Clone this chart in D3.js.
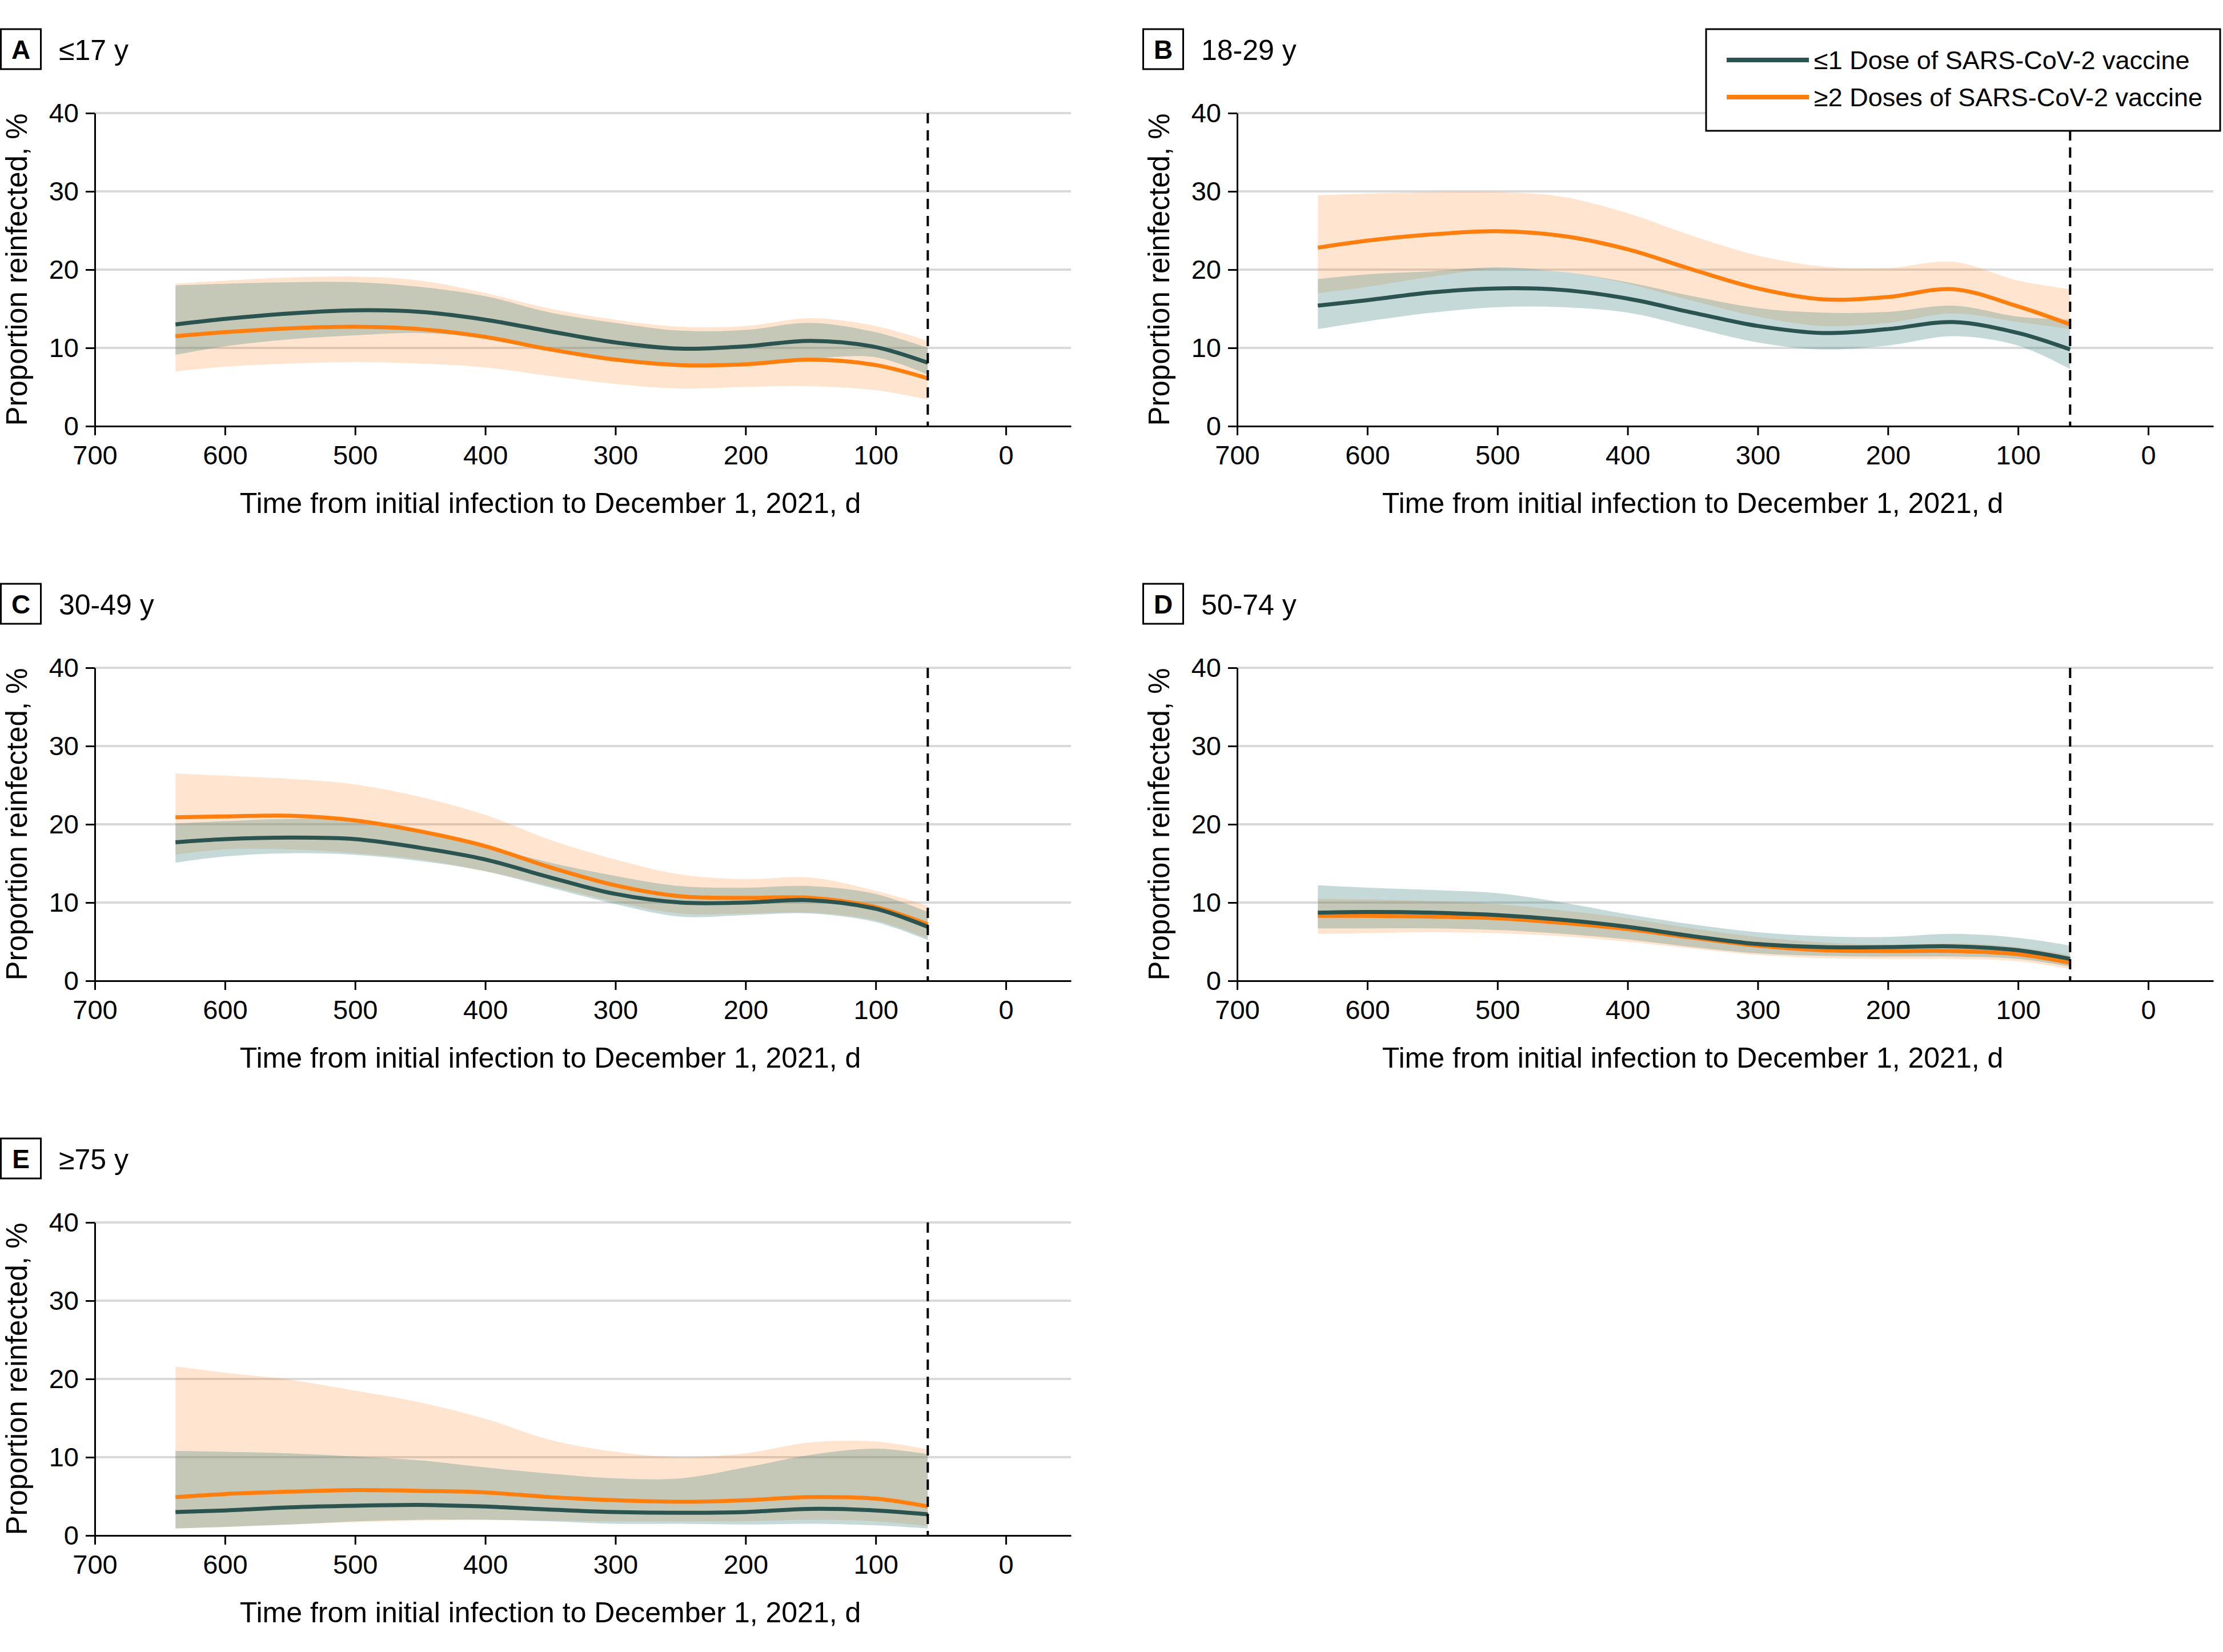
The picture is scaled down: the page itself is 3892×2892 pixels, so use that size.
<!DOCTYPE html>
<html>
<head>
<meta charset="utf-8">
<script src="https://cdn.jsdelivr.net/npm/d3@7"></script>
<style>
  html, body { margin: 0; padding: 0; background: #fff; }
  svg { display: block; font-family: "Liberation Sans", Arial, sans-serif; }
</style>
</head>
<body>
<script>
// ---------- data ----------
const days = [638, 600, 550, 500, 450, 400, 350, 300, 250, 200, 150, 100, 60];
const xTicks = [700, 600, 500, 400, 300, 200, 100, 0];
const yTicks = [0, 10, 20, 30, 40];
const gridValues = [10, 20, 30, 40];
const cutoffDay = 60;
const panelLetters = ["A", "B", "C", "D", "E"];
const panelTitles = ["≤17 y", "18-29 y", "30-49 y", "50-74 y", "≥75 y"];
const seriesNames = ["≤1 Dose of SARS-CoV-2 vaccine", "≥2 Doses of SARS-CoV-2 vaccine"];
const xTitle = "Time from initial infection to December 1, 2021, d";
const yTitle = "Proportion reinfected, %";

// A: ≤17 y
const A_d1    = [13.0, 13.7, 14.4, 14.8, 14.6, 13.6, 12.1, 10.7, 9.9, 10.2, 10.9, 10.1, 8.1];
const A_d1_hi = [18.0, 18.2, 18.4, 18.4, 17.8, 16.6, 14.5, 13.2, 12.2, 12.3, 13.2, 12.0, 10.0];
const A_d1_lo = [9.1, 10.2, 11.1, 11.6, 11.9, 11.2, 9.6, 8.4, 7.7, 7.8, 8.6, 8.8, 6.6];
const A_d2    = [11.5, 12.0, 12.5, 12.7, 12.4, 11.4, 9.8, 8.5, 7.8, 7.9, 8.5, 7.8, 6.1];
const A_d2_hi = [18.2, 18.6, 19.0, 19.1, 18.6, 17.0, 15.0, 13.6, 12.7, 12.8, 13.8, 12.8, 10.9];
const A_d2_lo = [7.0, 7.6, 8.0, 8.2, 8.0, 7.5, 6.4, 5.4, 4.8, 5.0, 5.1, 4.6, 3.4];
// B: 18-29 y
const B_d1    = [15.4, 16.1, 17.1, 17.6, 17.4, 16.3, 14.5, 12.8, 11.9, 12.4, 13.3, 11.9, 9.8];
const B_d1_hi = [18.8, 19.4, 19.8, 20.3, 19.7, 18.4, 16.6, 15.1, 14.5, 14.6, 15.4, 14.0, 13.6];
const B_d1_lo = [12.4, 13.4, 14.5, 15.2, 15.2, 14.5, 12.6, 10.7, 9.8, 10.3, 11.5, 10.3, 7.3];
const B_d2    = [22.8, 23.7, 24.5, 24.9, 24.3, 22.6, 20.0, 17.6, 16.2, 16.5, 17.5, 15.3, 13.0];
const B_d2_hi = [29.5, 29.7, 29.9, 29.9, 29.3, 27.2, 24.3, 21.8, 20.4, 20.2, 21.0, 18.6, 17.5];
const B_d2_lo = [17.0, 17.8, 19.1, 20.1, 19.7, 18.2, 16.0, 14.0, 12.8, 13.2, 14.4, 13.3, 12.4];
// C: 30-49 y
const C_d1    = [17.7, 18.1, 18.3, 18.1, 17.0, 15.5, 13.2, 11.1, 10.0, 10.0, 10.3, 9.2, 6.9];
const C_d1_hi = [20.1, 20.4, 20.7, 20.5, 19.3, 17.2, 15.1, 13.4, 12.1, 11.9, 12.1, 11.1, 8.8];
const C_d1_lo = [15.1, 15.9, 16.3, 16.1, 15.3, 14.0, 11.9, 9.8, 8.2, 8.4, 8.6, 7.5, 5.2];
const C_d2    = [20.9, 21.0, 21.1, 20.5, 19.1, 17.2, 14.5, 12.2, 10.8, 10.6, 10.6, 9.4, 7.2];
const C_d2_hi = [26.5, 26.2, 25.8, 25.1, 23.5, 21.2, 18.0, 15.5, 13.6, 13.0, 13.2, 11.5, 9.6];
const C_d2_lo = [16.1, 16.8, 16.8, 16.3, 15.5, 14.0, 12.1, 10.1, 8.6, 8.6, 8.7, 7.7, 5.4];
// D: 50-74 y
const D_d1    = [8.7, 8.8, 8.7, 8.4, 7.8, 6.9, 5.7, 4.7, 4.3, 4.3, 4.4, 3.9, 2.8];
const D_d1_hi = [12.2, 11.9, 11.6, 11.2, 10.0, 8.5, 7.2, 6.2, 5.7, 5.6, 6.0, 5.5, 4.5];
const D_d1_lo = [6.7, 6.7, 6.7, 6.5, 6.0, 5.3, 4.3, 3.5, 3.2, 3.1, 3.1, 2.8, 1.8];
const D_d2    = [8.3, 8.3, 8.2, 8.0, 7.4, 6.6, 5.5, 4.5, 3.9, 3.8, 3.8, 3.4, 2.3];
const D_d2_hi = [10.5, 10.4, 10.2, 9.8, 9.0, 8.0, 6.7, 5.6, 4.9, 4.6, 4.8, 4.3, 3.3];
const D_d2_lo = [6.0, 6.1, 6.2, 6.1, 5.7, 5.0, 4.1, 3.3, 2.9, 2.8, 2.8, 2.5, 1.5];
// E: ≥75 y
const E_d1    = [3.0, 3.2, 3.6, 3.8, 3.9, 3.7, 3.3, 3.0, 2.9, 3.0, 3.4, 3.2, 2.7];
const E_d1_hi = [10.8, 10.7, 10.5, 10.1, 9.6, 8.7, 7.9, 7.3, 7.3, 8.7, 10.3, 11.1, 10.4];
const E_d1_lo = [0.9, 1.1, 1.4, 1.8, 2.0, 2.0, 1.8, 1.5, 1.5, 1.4, 1.5, 1.3, 0.9];
const E_d2    = [4.9, 5.3, 5.6, 5.8, 5.7, 5.5, 4.9, 4.5, 4.3, 4.5, 4.9, 4.7, 3.7];
const E_d2_hi = [21.6, 20.8, 19.9, 18.5, 17.0, 14.9, 12.2, 10.7, 10.0, 10.5, 11.9, 12.0, 11.0];
const E_d2_lo = [0.9, 1.1, 1.4, 1.7, 1.9, 2.0, 1.9, 1.8, 1.8, 1.8, 2.0, 1.8, 1.2];

const panelData = [
  [[A_d1, A_d1_lo, A_d1_hi], [A_d2, A_d2_lo, A_d2_hi]],
  [[B_d1, B_d1_lo, B_d1_hi], [B_d2, B_d2_lo, B_d2_hi]],
  [[C_d1, C_d1_lo, C_d1_hi], [C_d2, C_d2_lo, C_d2_hi]],
  [[D_d1, D_d1_lo, D_d1_hi], [D_d2, D_d2_lo, D_d2_hi]],
  [[E_d1, E_d1_lo, E_d1_hi], [E_d2, E_d2_lo, E_d2_hi]]
];

// ---------- styling ----------
const W = 3892, H = 2892;
const lineColors = ["#2b5350", "#ff7f0e"];
const bandColors = ["rgba(62,128,128,0.30)", "rgba(255,127,14,0.20)"];
const panelOffsets = [[0, 0], [2000, 0], [0, 971], [2000, 971], [0, 1942]];
const plot = { left: 166, right: 1875, top: 198, bottom: 746 };

const svg = d3.select("body").append("svg")
  .attr("width", W).attr("height", H)
  .attr("viewBox", `0 0 ${W} ${H}`);
svg.append("rect").attr("width", W).attr("height", H).attr("fill", "#fff");

const x = d3.scaleLinear().domain([700, -50]).range([plot.left, plot.right]);
const y = d3.scaleLinear().domain([0, 40]).range([plot.bottom, plot.top]);

panelOffsets.forEach((off, pi) => {
  const g = svg.append("g").attr("transform", `translate(${off[0]},${off[1]})`);

  // panel label box + title
  g.append("rect").attr("x", 1.5).attr("y", 51).attr("width", 70).attr("height", 70)
    .attr("fill", "#fff").attr("stroke", "#000").attr("stroke-width", 3);
  g.append("text").attr("x", 36.5).attr("y", 86.5)
    .attr("text-anchor", "middle").attr("dominant-baseline", "central")
    .attr("font-size", 46).attr("font-weight", "bold").text(panelLetters[pi]);
  g.append("text").attr("x", 103).attr("y", 105)
    .attr("font-size", 50).text(panelTitles[pi]);

  // gridlines
  g.append("g").selectAll("line").data(gridValues).join("line")
    .attr("x1", plot.left).attr("x2", plot.right)
    .attr("y1", d => y(d)).attr("y2", d => y(d))
    .attr("stroke", "#d9d9d9").attr("stroke-width", 4);

  const series = panelData[pi];
  const area = (lo, hi) => d3.area()
    .x((d, i) => x(days[i])).y0((d, i) => y(lo[i])).y1((d, i) => y(hi[i]))
    .curve(d3.curveCatmullRom.alpha(0.5))(days);
  const line = vals => d3.line()
    .x((d, i) => x(days[i])).y((d, i) => y(vals[i]))
    .curve(d3.curveCatmullRom.alpha(0.5))(days);

  // bands: orange first, then teal
  [1, 0].forEach(si => {
    g.append("path").attr("d", area(series[si][1], series[si][2]))
      .attr("fill", bandColors[si]).attr("stroke", "none");
  });
  // lines: orange then dark
  [1, 0].forEach(si => {
    g.append("path").attr("d", line(series[si][0]))
      .attr("fill", "none").attr("stroke", lineColors[si])
      .attr("stroke-width", 7).attr("stroke-linecap", "butt");
  });

  // cutoff dashed line
  g.append("line")
    .attr("x1", x(cutoffDay)).attr("x2", x(cutoffDay))
    .attr("y1", y(40)).attr("y2", y(0))
    .attr("stroke", "#000").attr("stroke-width", 4)
    .attr("stroke-dasharray", "18,12");

  // axes
  const xAxis = d3.axisBottom(x).tickValues(xTicks).tickSize(16).tickSizeOuter(0).tickPadding(18);
  const yAxis = d3.axisLeft(y).tickValues(yTicks).tickSize(16).tickSizeOuter(0).tickPadding(12);
  const gx = g.append("g").attr("transform", `translate(0,${plot.bottom})`).call(xAxis);
  const gy = g.append("g").attr("transform", `translate(${plot.left},0)`).call(yAxis);
  [gx, gy].forEach(ax => {
    ax.select(".domain").attr("stroke", "#000").attr("stroke-width", 3);
    ax.selectAll(".tick line").attr("stroke", "#000").attr("stroke-width", 3);
    ax.selectAll(".tick text").attr("fill", "#000").attr("font-size", 47)
      .attr("font-family", "Liberation Sans, Arial, sans-serif");
  });

  // axis titles
  g.append("text").attr("x", (x(700) + x(0)) / 2).attr("y", 898)
    .attr("text-anchor", "middle").attr("font-size", 50).text(xTitle);
  g.append("text")
    .attr("transform", `translate(47,${(plot.top + plot.bottom) / 2}) rotate(-90)`)
    .attr("text-anchor", "middle").attr("font-size", 51).text(yTitle);
});

// legend
const lg = svg.append("g");
lg.append("rect").attr("x", 2987).attr("y", 51).attr("width", 900).attr("height", 178)
  .attr("fill", "#fff").attr("stroke", "#000").attr("stroke-width", 3);
const legendYs = [105, 170];
seriesNames.forEach((name, i) => {
  lg.append("line").attr("x1", 3023).attr("x2", 3167)
    .attr("y1", legendYs[i]).attr("y2", legendYs[i])
    .attr("stroke", lineColors[i]).attr("stroke-width", 8);
  lg.append("text").attr("x", 3176).attr("y", legendYs[i])
    .attr("dominant-baseline", "central").attr("font-size", 45).text(name);
});
</script>
</body>
</html>
